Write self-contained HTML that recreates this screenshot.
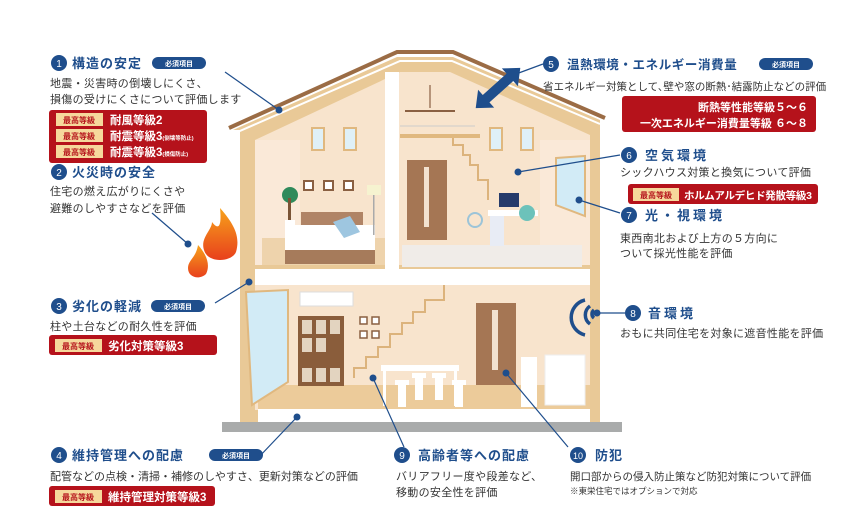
<!DOCTYPE html>
<html><head><meta charset="utf-8"><style>
body{margin:0;background:#fff;}
svg{display:block;font-family:"Liberation Sans","Noto Sans CJK JP",sans-serif;}
.t{fill:#1f4e8c;font-weight:bold;font-size:13px;letter-spacing:1px}
.d{fill:#333;font-size:11px;letter-spacing:0.3px}
.n{fill:#fff;font-size:10px;text-anchor:middle}
.bd{fill:#fff;font-size:7px;font-weight:bold;text-anchor:middle}
.r{fill:#fff;font-weight:bold;font-size:11.5px}
.tg{fill:#b5121b;font-weight:bold;font-size:8px;text-anchor:middle}
.ln{stroke:#1f4e8c;stroke-width:1.2;fill:none}
</style></head><body>
<svg width="848" height="518" viewBox="0 0 848 518">
<defs>
<linearGradient id="fl" x1="0" y1="1" x2="0" y2="0"><stop offset="0" stop-color="#e8401c"/><stop offset="1" stop-color="#f7a21b"/></linearGradient>
</defs>
<rect x="222" y="422" width="400" height="10" fill="#a9abab"/>
<polygon points="233,130 397,57 453,57 600,120 600,422 240,422 240,130" fill="#e9c997"/>
<polygon points="255,140 400,72 450,72 590,135 590,410 255,410" fill="#f8e4cd"/>
<rect x="255" y="140" width="45" height="125" fill="#fae9d8"/>
<rect x="540" y="140" width="50" height="125" fill="#fae9d8"/>
<polyline points="229,128 397,52 453,52 605,118" fill="none" stroke="#9b6c45" stroke-width="4"/>
<polyline points="233,134 400,61 452,61 600,124" fill="none" stroke="#fff" stroke-width="2"/>
<rect x="385" y="72" width="14" height="198" fill="#fff"/>
<rect x="255" y="268" width="335" height="17" fill="#fff"/>
<rect x="255" y="265" width="130" height="4" fill="#e9c997"/>
<rect x="399" y="265" width="191" height="4" fill="#e9c997"/>
<rect x="262" y="238" width="123" height="27" fill="#eed3ac"/>
<rect x="312" y="128" width="12" height="22" fill="#dff0f7" stroke="#e0b87f" stroke-width="2"/>
<rect x="344" y="128" width="12" height="22" fill="#dff0f7" stroke="#e0b87f" stroke-width="2"/>
<rect x="304" y="181" width="9" height="9" fill="#fff" stroke="#8a6042" stroke-width="2"/>
<rect x="324" y="181" width="9" height="9" fill="#fff" stroke="#8a6042" stroke-width="2"/>
<rect x="344" y="181" width="9" height="9" fill="#fff" stroke="#8a6042" stroke-width="2"/>
<rect x="301" y="212" width="62" height="40" fill="#b08466"/>
<rect x="285" y="225" width="90" height="27" fill="#fff"/>
<rect x="285" y="250" width="90" height="14" fill="#a67b5b"/>
<polygon points="333,222 350,216 360,232 344,238" fill="#9ec6e0"/>
<circle cx="290" cy="195" r="8" fill="#2f8a5b"/>
<rect x="288" y="198" width="3" height="22" fill="#7a5436"/>
<rect x="285" y="220" width="10" height="12" fill="#fff"/>
<rect x="367" y="185" width="14" height="10" fill="#f6f3d0"/>
<rect x="373" y="195" width="1.5" height="40" fill="#aaa"/>
<rect x="402" y="245" width="180" height="22" fill="#f0ece8"/>
<rect x="490" y="128" width="12" height="22" fill="#dff0f7" stroke="#e0b87f" stroke-width="2"/>
<rect x="521" y="128" width="12" height="22" fill="#dff0f7" stroke="#e0b87f" stroke-width="2"/>
<rect x="400" y="134" width="80" height="4" fill="#e0b87f"/>
<line x1="400" y1="126" x2="475" y2="126" stroke="#ccc" stroke-width="1"/>
<rect x="407" y="160" width="40" height="80" fill="#a57654"/>
<rect x="424" y="167" width="5" height="60" fill="#f3e2d0"/>
<polyline points="453,138 453,145 463,145 463,155 470,155 470,165 478,165 478,180 488,180 488,200" fill="none" stroke="#dcb37c" stroke-width="2"/>
<line x1="430" y1="85" x2="430" y2="108" stroke="#8a6042" stroke-width="1.2"/>
<rect x="405" y="110" width="50" height="2" fill="#8a6042"/>
<rect x="499" y="193" width="20" height="14" fill="#263b6b"/>
<rect x="488" y="210" width="50" height="6" fill="#fff"/>
<rect x="490" y="216" width="14" height="30" fill="#e8ecf5"/>
<circle cx="527" cy="213" r="8" fill="#6cc2ba"/>
<circle cx="475" cy="220" r="7" fill="none" stroke="#9cc4d8" stroke-width="2"/>
<polygon points="556,158 585,156 585,216 556,205" fill="#d2ebf6" stroke="#e0b87f" stroke-width="2"/>
<rect x="258" y="385" width="332" height="24" fill="#eccb9a"/>
<rect x="258" y="409" width="332" height="13" fill="#fff"/>
<polygon points="246,292 288,290 288,382 252,405" fill="#d2ebf6" stroke="#e0b87f" stroke-width="2"/>
<rect x="300" y="292" width="53" height="14" fill="#fff" stroke="#ddd"/>
<rect x="298" y="316" width="46" height="70" fill="#8a5d3b"/>
<g fill="#e3d4c0"><rect x="302" y="320" width="10" height="14"/><rect x="316" y="320" width="10" height="14"/><rect x="330" y="320" width="10" height="14"/><rect x="302" y="338" width="10" height="14"/><rect x="316" y="338" width="10" height="14"/><rect x="302" y="368" width="10" height="14"/><rect x="316" y="368" width="10" height="14"/><rect x="330" y="368" width="10" height="14"/></g>
<g fill="#fff" stroke="#8a6042" stroke-width="1.5"><rect x="360" y="317" width="7" height="7"/><rect x="372" y="317" width="7" height="7"/><rect x="360" y="331" width="7" height="7"/><rect x="372" y="331" width="7" height="7"/></g>
<polyline points="354,378 354,368 366,368 366,357 378,357 378,347 390,347 390,334 402,334 402,323 413,323 413,312 425,312 425,300 444,300 444,285" fill="none" stroke="#dcb37c" stroke-width="2"/>
<rect x="476" y="303" width="40" height="82" fill="#a57654"/>
<rect x="492" y="310" width="6" height="60" fill="#f3e2d0"/>
<rect x="381" y="365" width="78" height="6" fill="#fff"/>
<rect x="383" y="371" width="3" height="35" fill="#fff"/><rect x="454" y="371" width="3" height="35" fill="#fff"/>
<g fill="#fff"><rect x="395" y="380" width="14" height="5"/><rect x="398" y="385" width="8" height="22"/><rect x="412" y="373" width="14" height="5"/><rect x="415" y="378" width="8" height="22"/><rect x="432" y="373" width="14" height="5"/><rect x="435" y="378" width="8" height="22"/><rect x="452" y="380" width="14" height="5"/><rect x="455" y="385" width="8" height="22"/></g>
<rect x="521" y="357" width="16" height="50" fill="#fff"/>
<rect x="545" y="355" width="40" height="50" fill="#fff" stroke="#eee"/>
<g fill="none" stroke="#1f4e8c" stroke-width="3.5"><path d="M585,300 A18,18 0 0,0 585,335"/><path d="M590,306 A11,11 0 0,0 590,324"/><path d="M594,310 A5,5 0 0,0 594,318"/></g>
<!-- double arrow -->
<g transform="translate(498,88) rotate(-42)"><polygon points="-30,0 -16,-12 -16,-5 16,-5 16,-12 30,0 16,12 16,5 -16,5 -16,12" fill="#1f4e8c"/></g>
<path d="M220,208 C236,226 240,238 236,252 C232,262 208,264 204,250 C200,238 212,230 212,222 C218,230 222,228 220,208Z" fill="url(#fl)"/>
<path d="M198,245 C208,256 210,266 206,274 C200,280 188,278 188,268 C188,260 196,258 198,245Z" fill="url(#fl)"/>
<g class="ln"><line x1="225" y1="72" x2="279" y2="110"/><line x1="152" y1="213" x2="188" y2="244"/><line x1="215" y1="303" x2="249" y2="282"/><line x1="258" y1="458" x2="297" y2="417"/><line x1="543" y1="64" x2="516" y2="74"/><line x1="620" y1="155" x2="518" y2="172"/><line x1="620" y1="213" x2="579" y2="200"/><line x1="625" y1="313" x2="597" y2="313"/><line x1="404" y1="447" x2="373" y2="378"/><line x1="568" y1="447" x2="506" y2="373"/></g>
<g fill="#1f4e8c"><circle cx="279" cy="110" r="3.5"/><circle cx="188" cy="244" r="3.5"/><circle cx="249" cy="282" r="3.5"/><circle cx="297" cy="417" r="3.5"/><circle cx="518" cy="172" r="3.5"/><circle cx="579" cy="200" r="3.5"/><circle cx="597" cy="313" r="3.5"/><circle cx="373" cy="378" r="3.5"/><circle cx="506" cy="373" r="3.5"/></g>
<g fill="#1f4e8c"><circle cx="59" cy="63" r="8"/><circle cx="59" cy="172" r="8"/><circle cx="59" cy="306" r="8"/><circle cx="59" cy="455" r="8"/><circle cx="551" cy="64" r="8"/><circle cx="629" cy="155" r="8"/><circle cx="629" cy="215" r="8"/><circle cx="633" cy="313" r="8"/><circle cx="402" cy="455" r="8"/><circle cx="578" cy="455" r="8"/></g>
<text class="n" x="59" y="67">1</text><text class="n" x="59" y="176">2</text><text class="n" x="59" y="310">3</text><text class="n" x="59" y="459">4</text><text class="n" x="551" y="68">5</text><text class="n" x="629" y="159">6</text><text class="n" x="629" y="219">7</text><text class="n" x="633" y="317">8</text><text class="n" x="402" y="459">9</text><text class="n" x="578" y="459" style="font-size:9px">10</text>
<g fill="#1f4e8c"><rect x="152" y="57" width="54" height="12" rx="6"/><rect x="151" y="300" width="54" height="12" rx="6"/><rect x="209" y="449" width="54" height="12" rx="6"/><rect x="759" y="58" width="54" height="12" rx="6"/></g>
<text class="bd" x="179" y="66">必須項目</text><text class="bd" x="178" y="309">必須項目</text><text class="bd" x="236" y="458">必須項目</text><text class="bd" x="786" y="67">必須項目</text>
<text class="t" x="72" y="68">構造の安定</text>
<text class="t" x="72" y="177">火災時の安全</text>
<text class="t" x="72" y="311">劣化の軽減</text>
<text class="t" x="72" y="460">維持管理への配慮</text>
<text class="t" x="567" y="69" style="letter-spacing:0.6px;font-size:12.5px">温熱環境・エネルギー消費量</text>
<text class="t" x="645" y="160" style="letter-spacing:3px">空気環境</text>
<text class="t" x="645" y="220" style="letter-spacing:3px">光・視環境</text>
<text class="t" x="648" y="318" style="letter-spacing:3px">音環境</text>
<text class="t" x="418" y="460">高齢者等への配慮</text>
<text class="t" x="595" y="460">防犯</text>
<text class="d" x="50" y="87">地震・災害時の倒壊しにくさ、</text>
<text class="d" x="50" y="103">損傷の受けにくさについて評価します</text>
<text class="d" x="50" y="195">住宅の燃え広がりにくさや</text>
<text class="d" x="50" y="212">避難のしやすさなどを評価</text>
<text class="d" x="50" y="330">柱や土台などの耐久性を評価</text>
<text class="d" x="50" y="480" style="letter-spacing:0">配管などの点検・清掃・補修のしやすさ、更新対策などの評価</text>
<text class="d" x="543" y="90" style="font-size:10.5px;letter-spacing:0">省エネルギー対策として､壁や窓の断熱･結露防止などの評価</text>
<text class="d" x="620" y="176">シックハウス対策と換気について評価</text>
<text class="d" x="620" y="242">東西南北および上方の５方向に</text>
<text class="d" x="620" y="257">ついて採光性能を評価</text>
<text class="d" x="620" y="337">おもに共同住宅を対象に遮音性能を評価</text>
<text class="d" x="396" y="480">バリアフリー度や段差など、</text>
<text class="d" x="396" y="496">移動の安全性を評価</text>
<text class="d" x="570" y="480" style="font-size:10.5px;letter-spacing:0">開口部からの侵入防止策など防犯対策について評価</text>
<text class="d" x="570" y="494" style="font-size:8.5px;letter-spacing:0">※東栄住宅ではオプションで対応</text>
<g fill="#b5121b"><rect x="49" y="110" width="158" height="53" rx="3"/><rect x="49" y="335" width="168" height="20" rx="3"/><rect x="49" y="486" width="166" height="20" rx="3"/><rect x="622" y="96" width="194" height="36" rx="3"/><rect x="628" y="184" width="190" height="20" rx="3"/></g>
<g fill="#f6d89c"><rect x="56" y="113" width="47" height="13"/><rect x="56" y="129" width="47" height="13"/><rect x="56" y="145" width="47" height="13"/><rect x="55" y="339" width="47" height="13"/><rect x="55" y="490" width="47" height="13"/><rect x="633" y="188" width="46" height="13"/></g>
<text class="tg" x="79" y="123">最高等級</text><text class="tg" x="79" y="139">最高等級</text><text class="tg" x="79" y="155">最高等級</text><text class="tg" x="78" y="349">最高等級</text><text class="tg" x="78" y="500">最高等級</text><text class="tg" x="656" y="198">最高等級</text>
<text class="r" x="110" y="124">耐風等級2</text>
<text class="r" x="110" y="140">耐震等級3<tspan style="font-size:5.5px">(倒壊等防止)</tspan></text>
<text class="r" x="110" y="156">耐震等級3<tspan style="font-size:5.5px">(損傷防止)</tspan></text>
<text class="r" x="108" y="350">劣化対策等級3</text>
<text class="r" x="108" y="501">維持管理対策等級3</text>
<text class="r" x="808" y="111" text-anchor="end" style="font-size:11px">断熱等性能等級５～６</text>
<text class="r" x="808" y="127" text-anchor="end" style="font-size:11px">一次エネルギー消費量等級 ６～８</text>
<text class="r" x="684" y="199" style="font-size:10.5px;letter-spacing:-0.3px">ホルムアルデヒド発散等級3</text>
</svg>
</body></html>
